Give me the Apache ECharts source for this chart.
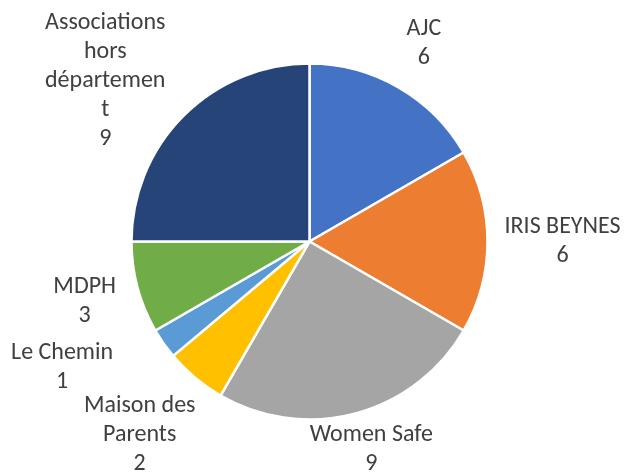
<!DOCTYPE html>
<html>
<head>
<meta charset="utf-8">
<script src="https://cdn.jsdelivr.net/npm/echarts@6/dist/echarts.min.js"></script>
<style>
  html, body { margin: 0; padding: 0; background: #fff; }
  #chart { width: 626px; height: 472px; }
</style>
</head>
<body>
<div id="chart"></div>
<script>
// Chart data
const categories = ['AJC', 'IRIS BEYNES', 'Women Safe', 'Maison des Parents', 'Le Chemin', 'MDPH', 'Associations hors département'];
const labelNames = ['AJC', 'IRIS BEYNES', 'Women Safe', 'Maison des\nParents', 'Le Chemin', 'MDPH', 'Associations\nhors\ndépartemen\nt'];
const values = [6, 6, 9, 2, 1, 3, 9];
const colors = ['#4472C4', '#ED7D31', '#A5A5A5', '#FFC000', '#5B9BD5', '#70AD47', '#264478'];

const W = 626, H = 472;
const CX = 309.5, CY = 241.5, R = 178;
const GAP = 17;

const total = values.reduce((a, b) => a + b, 0);

// mid angle of each slice, degrees clockwise from 12 o'clock
const midAngles = [];
let acc = 0;
values.forEach(v => {
  const a = v / total * 360;
  midAngles.push(acc + a / 2);
  acc += a;
});

// Excel-like "best fit" label placement: label box just outside the pie on the
// slice bisector, kept inside the chart and pushed round (and out) when it hits a neighbour
let placed = [];

function boxAt(angle, w, h, extra) {
  const t = angle * Math.PI / 180;
  const ux = Math.sin(t), uy = -Math.cos(t);
  const d = R + GAP + Math.abs(ux) * w + Math.abs(uy) * h + extra;
  let x = CX + ux * d, y = CY + uy * d;
  x = Math.min(Math.max(x, w + 2), W - w - 2);
  y = Math.min(Math.max(y, h + 8), H - h + 6);
  return { x, y, w, h };
}

function overlaps(b) {
  // text boxes a little tighter than the line boxes
  return placed.some(p => Math.abs(p.x - b.x) < p.w + b.w && Math.abs(p.y - b.y) < p.h + b.h - 8);
}

function layoutLabel(params) {
  if (params.dataIndex === 0) placed = [];
  const w = params.labelRect.width / 2;
  const h = params.labelRect.height / 2;
  const angle = midAngles[params.dataIndex];
  let n = 0;
  let box = boxAt(angle, w, h, 0);
  while (overlaps(box) && n < 60) {
    n++;
    box = boxAt(angle + n, w, h, 3 * n);
  }
  placed.push(box);
  return { x: box.x, y: box.y, align: 'center', verticalAlign: 'middle' };
}

const chart = echarts.init(document.getElementById('chart'), null, { renderer: 'canvas' });

chart.setOption({
  animation: false,
  color: colors,
  series: [{
    type: 'pie',
    center: [CX, CY],
    radius: [0, R],
    startAngle: 90,
    clockwise: true,
    avoidLabelOverlap: false,
    itemStyle: {
      borderColor: '#fff',
      borderWidth: 2.5
    },
    label: {
      show: true,
      position: 'outside',
      fontFamily: 'Carlito, "Liberation Sans Narrow", sans-serif',
      fontSize: 24,
      lineHeight: 29,
      color: '#404040',
      formatter: p => labelNames[p.dataIndex] + '\n' + p.value
    },
    labelLine: { show: false },
    labelLayout: layoutLabel,
    emphasis: { disabled: true },
    data: categories.map((name, i) => ({ name, value: values[i] }))
  }]
});

window.addEventListener('resize', () => chart.resize());
</script>
</body>
</html>
